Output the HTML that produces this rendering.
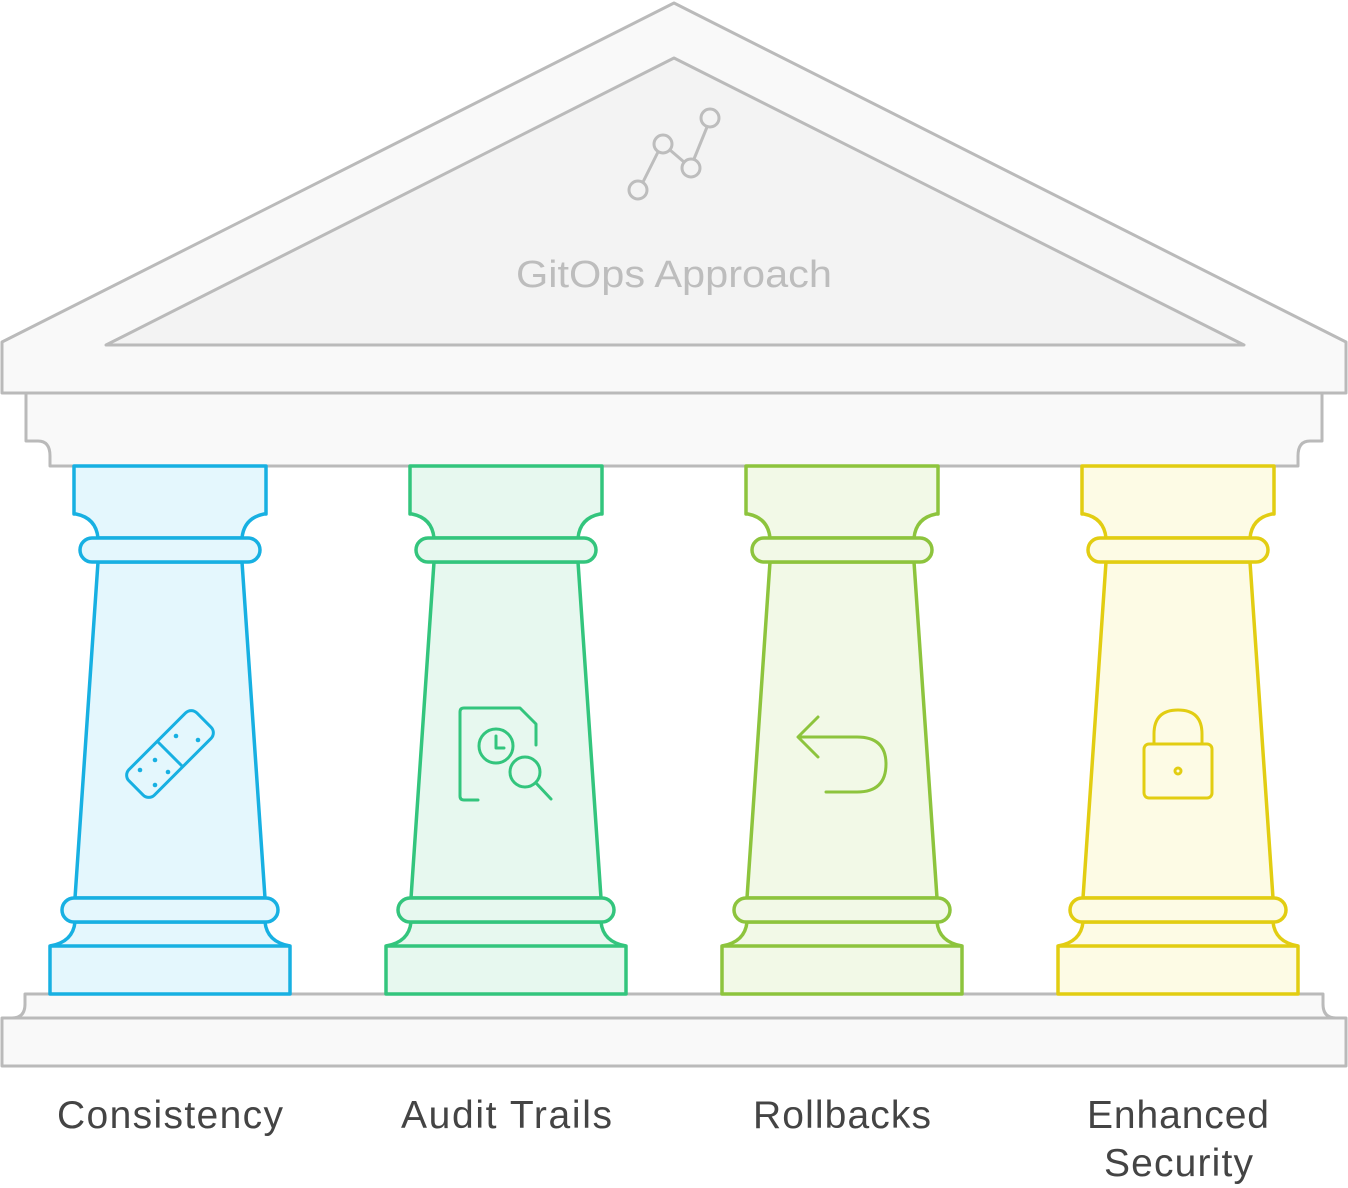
<!DOCTYPE html>
<html><head><meta charset="utf-8"><style>
html,body{margin:0;padding:0;background:#fff;}
svg{display:block}
text{font-family:"Liberation Sans",sans-serif;}
</style></head><body>
<svg width="1348" height="1188" viewBox="0 0 1348 1188" xmlns="http://www.w3.org/2000/svg">
<g stroke="#bababa" stroke-width="3" stroke-linejoin="round">
<path d="M674 3 L1346 342 L1346 393 L2 393 L2 342 Z" fill="#f9f9f9"/>
<path d="M674 58 L1244 345 L106 345 Z" fill="#f3f3f3"/>
<path d="M26 393 H1322 V441 H1310 Q1298 441 1298 456 V466 H50 V456 Q50 441 38 441 H26 Z" fill="#f9f9f9"/>
<path d="M2 1018 H12 Q25 1018 25 1004 V994 H1323 V1004 Q1323 1018 1336 1018 H1346 V1066 H2 Z" fill="#f9f9f9"/>
<line x1="2" y1="1018" x2="1346" y2="1018"/>
</g>
<text x="516" y="287" font-size="38" fill="#bdbdbd" textLength="316" lengthAdjust="spacingAndGlyphs">GitOps Approach</text>
<g fill="none" stroke="#bdbdbd" stroke-width="3">
<circle cx="638" cy="190" r="9"/><circle cx="663" cy="144" r="9"/><circle cx="691" cy="168" r="9"/><circle cx="710" cy="118" r="9"/>
<line x1="643" y1="182" x2="658" y2="152"/><line x1="670" y1="150" x2="684" y2="162"/><line x1="694" y1="159" x2="707" y2="127"/>
</g>
<defs>
<g id="col">
<path d="M-96 466 H96 V514 H94 Q74 518 72 538 H-72 Q-74 518 -94 514 H-96 Z"/>
<path d="M-72 562 H72 L95 898 H-95 Z"/>
<path d="M-95 922 H95 Q97 942 120 946 V994 H-120 V946 Q-97 942 -95 922 Z"/>
<rect x="-90" y="538" width="180" height="24" rx="12"/>
<rect x="-108" y="898" width="216" height="24" rx="12"/>
<line x1="-120" y1="946" x2="120" y2="946"/>
</g>
</defs>
<g stroke-width="3.5" stroke-linejoin="round">
<use href="#col" x="170" stroke="#17b0e2" fill="#e4f7fd"/>
<use href="#col" x="506" stroke="#33c57d" fill="#e7f8ef"/>
<use href="#col" x="842" stroke="#8dc43d" fill="#f2f9e7"/>
<use href="#col" x="1178" stroke="#e2cd12" fill="#fdfbe5"/>
</g>
<g fill="none" stroke="#17b0e2" stroke-width="3" stroke-linejoin="round">
<rect x="-18" y="-48" width="36" height="96" rx="8" transform="translate(170,754) rotate(45)"/>
<line x1="157" y1="741" x2="183" y2="767"/>
</g>
<g fill="#17b0e2"><circle cx="176" cy="736" r="2.3"/><circle cx="198" cy="740" r="2.3"/><circle cx="140" cy="770" r="2.3"/><circle cx="155" cy="760" r="2.3"/><circle cx="155" cy="785" r="2.3"/><circle cx="168" cy="772" r="2.3"/></g>
<g fill="none" stroke="#33c57d" stroke-width="3" stroke-linejoin="round" stroke-linecap="round">
<path d="M478 800 H464 Q460 800 460 796 V712 Q460 708 464 708 H520 L536 724 V745"/>
<circle cx="496" cy="746" r="17"/><path d="M496 736 V748 H504"/>
<circle cx="525" cy="772" r="15"/><line x1="536" y1="783" x2="551" y2="799"/>
</g>
<g fill="none" stroke="#8dc43d" stroke-width="3" stroke-linecap="round" stroke-linejoin="round">
<path d="M818 717 L798 737 L818 757"/><path d="M799 737 H857 Q886 737 886 764 Q886 792 857 792 H826"/>
</g>
<g fill="none" stroke="#e2cd12" stroke-width="3" stroke-linejoin="round">
<rect x="1144" y="744" width="68" height="54" rx="5"/><path d="M1154 744 V734 Q1154 710 1178 710 Q1202 710 1202 734 V744"/><circle cx="1178" cy="771" r="3"/>
</g>
<g font-size="39" fill="#444" lengthAdjust="spacingAndGlyphs">
<text x="57" y="1128" textLength="226">Consistency</text>
<text x="401" y="1128" textLength="211">Audit Trails</text>
<text x="753" y="1128" textLength="178">Rollbacks</text>
<text x="1087" y="1128" textLength="182">Enhanced</text>
<text x="1104" y="1176" textLength="149">Security</text>
</g>
</svg>
</body></html>
